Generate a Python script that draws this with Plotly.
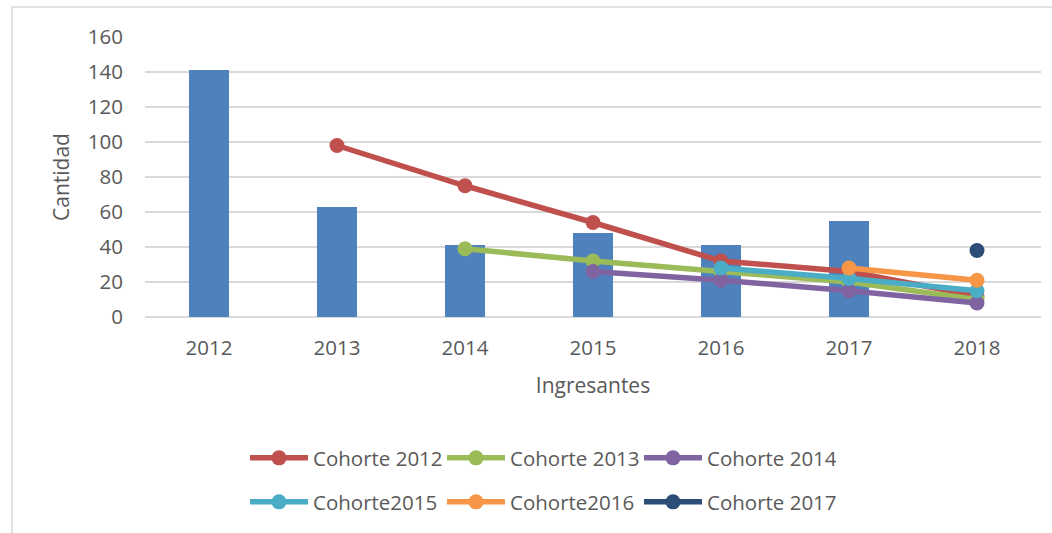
import plotly.graph_objects as go

years = ["2012", "2013", "2014", "2015", "2016", "2017", "2018"]
ingresantes_years = ["2012", "2013", "2014", "2015", "2016", "2017"]
ingresantes = [141, 63, 41, 48, 41, 55]

c2012_x = ["2013", "2014", "2015", "2016", "2017", "2018"]
c2012_y = [98, 75, 54, 32, 26, 12]
c2013_x = ["2014", "2015", "2016", "2017", "2018"]
c2013_y = [39, 32, 26, 20, 10]
c2014_x = ["2015", "2016", "2017", "2018"]
c2014_y = [26, 21, 15, 8]
c2015_x = ["2016", "2017", "2018"]
c2015_y = [28, 22, 15]
c2016_x = ["2017", "2018"]
c2016_y = [28, 21]
c2017_x = ["2018"]
c2017_y = [38]

y_ticks = [0, 20, 40, 60, 80, 100, 120, 140, 160]

FONT = "Open Sans"
TXT = "#595959"

fig = go.Figure()
fig.add_trace(go.Bar(x=ingresantes_years, y=ingresantes, marker=dict(color="#4F81BD", line=dict(width=0)),
                     width=0.31, showlegend=False, name="Ingresantes"))

series = [
    ("Cohorte 2012", c2012_x, c2012_y, "#C0504D", "legend"),
    ("Cohorte 2013", c2013_x, c2013_y, "#9BBB59", "legend"),
    ("Cohorte 2014", c2014_x, c2014_y, "#8064A2", "legend"),
    ("Cohorte2015", c2015_x, c2015_y, "#4BACC6", "legend2"),
    ("Cohorte2016", c2016_x, c2016_y, "#F79646", "legend2"),
    ("Cohorte 2017", c2017_x, c2017_y, "#2C4D75", "legend2"),
]
for name, xs, ys, col, lg in series:
    fig.add_trace(go.Scatter(x=xs, y=ys, name=name, mode="lines+markers",
                             line=dict(color=col, width=5.5),
                             marker=dict(color=col, size=15),
                             legend=lg))

legend_common = dict(orientation="h", xref="container", yref="container",
                     xanchor="left", yanchor="middle",
                     font=dict(family=FONT, size=20.5, color=TXT),
                     entrywidth=124, entrywidthmode="pixels", itemwidth=58,
                     bgcolor="rgba(0,0,0,0)", traceorder="normal")

fig.update_layout(
    width=1052, height=533,
    margin=dict(l=145, r=11, t=37, b=216),
    paper_bgcolor="white", plot_bgcolor="white",
    font=dict(family=FONT, size=20, color=TXT),
    bargap=0,
    legend=dict(x=245/1052, y=1 - 458/533, **legend_common),
    legend2=dict(x=245/1052, y=1 - 502/533, **legend_common),
    xaxis=dict(type="category", categoryorder="array", categoryarray=years,
               range=[-0.5, 6.5], showgrid=False, showline=False, zeroline=False,
               tickfont=dict(family=FONT, size=20.5, color=TXT), ticklabelstandoff=16,
               title=dict(text="Ingresantes", font=dict(family=FONT, size=21, color=TXT), standoff=18)),
    yaxis=dict(range=[0, 160], tickvals=y_ticks, showgrid=True, gridcolor="#D9D9D9", gridwidth=2,
               zeroline=True, zerolinecolor="#D9D9D9", zerolinewidth=2, showline=False,
               tickfont=dict(family=FONT, size=20.5, color=TXT), ticklabelstandoff=21,
               title=dict(text="Cantidad", font=dict(family=FONT, size=21, color=TXT), standoff=12)),
    shapes=[dict(type="rect", xref="paper", yref="paper",
                 x0=(12 - 145) / 896, x1=(1060 - 145) / 896,
                 y0=(317 - 545) / 280, y1=(317 - 7) / 280,
                 line=dict(color="#D9D9D9", width=1.5), fillcolor="rgba(0,0,0,0)", layer="below")],
)

fig.write_html("out.html", config={"displayModeBar": False},
               post_script="document.body.style.margin='0';document.body.style.overflow='hidden';")
